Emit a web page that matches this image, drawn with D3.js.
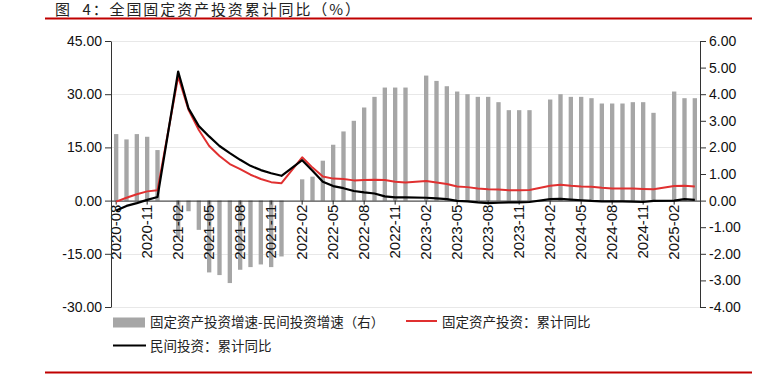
<!DOCTYPE html>
<html><head><meta charset="utf-8">
<script src="https://cdn.jsdelivr.net/npm/d3@7/dist/d3.min.js"></script>
<style>
body{margin:0;background:#fff;}
svg{display:block;}
.num{font-family:"Liberation Sans",Arial,sans-serif;}
.cjk{font-family:"Noto Sans CJK SC","Noto Sans",sans-serif;}
</style>
</head><body>
<svg id="c" width="777" height="379"></svg>
<script>
const categories = [
 "2020-08","2020-09","2020-10","2020-11","2020-12",
 "2021-01","2021-02","2021-03","2021-04","2021-05","2021-06","2021-07","2021-08","2021-09","2021-10","2021-11","2021-12",
 "2022-01","2022-02","2022-03","2022-04","2022-05","2022-06","2022-07","2022-08","2022-09","2022-10","2022-11","2022-12",
 "2023-01","2023-02","2023-03","2023-04","2023-05","2023-06","2023-07","2023-08","2023-09","2023-10","2023-11","2023-12",
 "2024-01","2024-02","2024-03","2024-04","2024-05","2024-06","2024-07","2024-08","2024-09","2024-10","2024-11","2024-12",
 "2025-01","2025-02","2025-03","2025-04"];
// 固定资产投资：累计同比 (left axis)
const faiYoY = [
 -0.3, 0.8, 1.8, 2.6, 2.9,
 null, 35.0, 25.6, 19.9, 15.4, 12.6, 10.3, 8.9, 7.3, 6.1, 5.2, 4.9,
 null, 12.2, 9.3, 6.8, 6.2, 6.1, 5.7, 5.8, 5.9, 5.8, 5.3, 5.1,
 null, 5.5, 5.1, 4.7, 4.0, 3.8, 3.4, 3.2, 3.1, 2.9, 2.9, 3.0,
 null, 4.2, 4.5, 4.2, 4.0, 3.9, 3.6, 3.4, 3.4, 3.4, 3.3, 3.2,
 null, 4.1, 4.2, 4.0];
// 民间投资：累计同比 (left axis)
const privateYoY = [
 -2.8, -1.5, -0.7, 0.2, 1.0,
 null, 36.4, 26.0, 21.0, 18.1, 15.4, 13.4, 11.5, 9.8, 8.6, 7.7, 7.0,
 null, 11.4, 8.4, 5.3, 4.1, 3.5, 2.7, 2.3, 2.0, 1.2, 0.9, 0.9,
 null, 0.8, 0.6, 0.4, -0.1, -0.2, -0.5, -0.7, -0.6, -0.5, -0.5, -0.4,
 null, 0.4, 0.5, 0.3, 0.1, -0.1, -0.2, -0.2, -0.2, -0.3, -0.4, -0.1,
 null, 0.0, 0.4, 0.2];
// 固定资产投资增速-民间投资增速 (right axis)
const spread = [
 2.5, 2.3, 2.5, 2.4, 1.9,
 null, -1.4, -0.4, -1.1, -2.7, -2.8, -3.1, -2.6, -2.5, -2.4, -2.5, -2.1,
 null, 0.8, 0.9, 1.5, 2.1, 2.6, 3.0, 3.5, 3.9, 4.25, 4.25, 4.25,
 null, 4.7, 4.5, 4.3, 4.1, 4.0, 3.9, 3.9, 3.7, 3.4, 3.4, 3.4,
 null, 3.8, 4.0, 3.9, 3.9, 3.85, 3.65, 3.65, 3.65, 3.7, 3.7, 3.3,
 null, 4.1, 3.85, 3.85];
const leftTicks = [45, 30, 15, 0, -15, -30];
const rightTicks = [6, 5, 4, 3, 2, 1, 0, -1, -2, -3, -4];
const xTickLabels = categories.filter((c, i) => i % 3 === 0);

const svg = d3.select("#c");
const L = 111, R = 700, T = 41, B = 307;
const x = d3.scaleBand().domain(categories).range([L, R]).paddingInner(0.58).paddingOuter(0.29);
const cx = c => x(c) + x.bandwidth() / 2;
const yL = d3.scaleLinear().domain([-30, 45]).range([B, T]);
const yR = d3.scaleLinear().domain([-4, 6]).range([B, T]);

// title
svg.append("text").attr("class", "cjk").attr("x", 55).attr("y", 14.5)
  .attr("font-size", 15).attr("letter-spacing", 1.9).attr("fill", "#222")
  .style("white-space", "pre").text("图  4：全国固定资产投资累计同比（%）");
svg.append("line").attr("x1", 45).attr("x2", 752).attr("y1", 18.5).attr("y2", 18.5)
  .attr("stroke", "#c00000").attr("stroke-width", 2);
svg.append("line").attr("x1", 45).attr("x2", 752).attr("y1", 372.5).attr("y2", 372.5)
  .attr("stroke", "#c00000").attr("stroke-width", 2);

// gridlines
svg.append("g").selectAll("line").data(leftTicks.filter(d => d !== 0)).join("line")
  .attr("x1", L).attr("x2", R).attr("y1", d => Math.round(yL(d)) + 0.5).attr("y2", d => Math.round(yL(d)) + 0.5)
  .attr("stroke", "#e8e8e8").attr("stroke-width", 1);

// bars
const barData = categories.map((c, i) => ({c, v: spread[i]})).filter(d => d.v != null);
svg.append("g").selectAll("rect").data(barData).join("rect")
  .attr("x", d => x(d.c)).attr("width", x.bandwidth())
  .attr("y", d => Math.min(yR(d.v), yR(0)))
  .attr("height", d => Math.abs(yR(d.v) - yR(0)))
  .attr("fill", "#a6a6a6");

// category axis at zero
const xAxis = svg.append("g").attr("transform", `translate(0,${yL(0)})`)
  .call(d3.axisBottom(x).tickValues(xTickLabels).tickSize(4).tickSizeOuter(0));
xAxis.select(".domain").attr("stroke", "#222");
xAxis.selectAll(".tick line").attr("stroke", "#222");
xAxis.selectAll(".tick text").attr("class", "num").attr("font-size", 15).attr("fill", "#111")
  .attr("transform", "rotate(-90)").attr("x", -4).attr("y", 0).attr("dy", "0.35em")
  .attr("text-anchor", "end").attr("font-family", "Liberation Sans, Arial, sans-serif");

// lines
const lineGen = d3.line().x(d => cx(d.c)).y(d => yL(d.v));
const faiData = categories.map((c, i) => ({c, v: faiYoY[i]})).filter(d => d.v != null);
const privData = categories.map((c, i) => ({c, v: privateYoY[i]})).filter(d => d.v != null);
svg.append("path").datum(faiData).attr("d", lineGen).attr("fill", "none")
  .attr("stroke", "#e03030").attr("stroke-width", 2).attr("stroke-linejoin", "round");
svg.append("path").datum(privData).attr("d", lineGen).attr("fill", "none")
  .attr("stroke", "#000").attr("stroke-width", 2.2).attr("stroke-linejoin", "round");

// left axis
const fmt = d => d.toFixed(2);
const la = svg.append("g").attr("transform", `translate(${L},0)`)
  .call(d3.axisLeft(yL).tickValues(leftTicks).tickSize(6).tickSizeOuter(0).tickPadding(3).tickFormat(fmt));
la.selectAll("text").attr("font-size", 14).attr("fill", "#111").attr("font-family", "Liberation Sans, Arial, sans-serif");
la.selectAll("path,line").attr("stroke", "#333");

const ra = svg.append("g").attr("transform", `translate(${R},0)`)
  .call(d3.axisRight(yR).tickValues(rightTicks).tickSize(6).tickSizeOuter(0).tickPadding(3).tickFormat(fmt));
ra.selectAll("text").attr("font-size", 14).attr("fill", "#111").attr("font-family", "Liberation Sans, Arial, sans-serif");
ra.selectAll("path,line").attr("stroke", "#333");

// legend
const lg = svg.append("g").attr("class", "cjk").attr("font-size", 13.5).attr("fill", "#222");
lg.append("rect").attr("x", 113).attr("y", 317.5).attr("width", 32).attr("height", 10).attr("fill", "#a6a6a6");
lg.append("text").attr("x", 150).attr("y", 322.5).attr("dy", "0.35em").text("固定资产投资增速-民间投资增速（右）");
lg.append("line").attr("x1", 406).attr("x2", 437).attr("y1", 321).attr("y2", 321).attr("stroke", "#e03030").attr("stroke-width", 2);
lg.append("text").attr("x", 442).attr("y", 322.5).attr("dy", "0.35em").text("固定资产投资：累计同比");
lg.append("line").attr("x1", 113).attr("x2", 146).attr("y1", 345.5).attr("y2", 345.5).attr("stroke", "#000").attr("stroke-width", 2.2);
lg.append("text").attr("x", 150).attr("y", 346).attr("dy", "0.35em").text("民间投资：累计同比");
</script>
</body></html>
